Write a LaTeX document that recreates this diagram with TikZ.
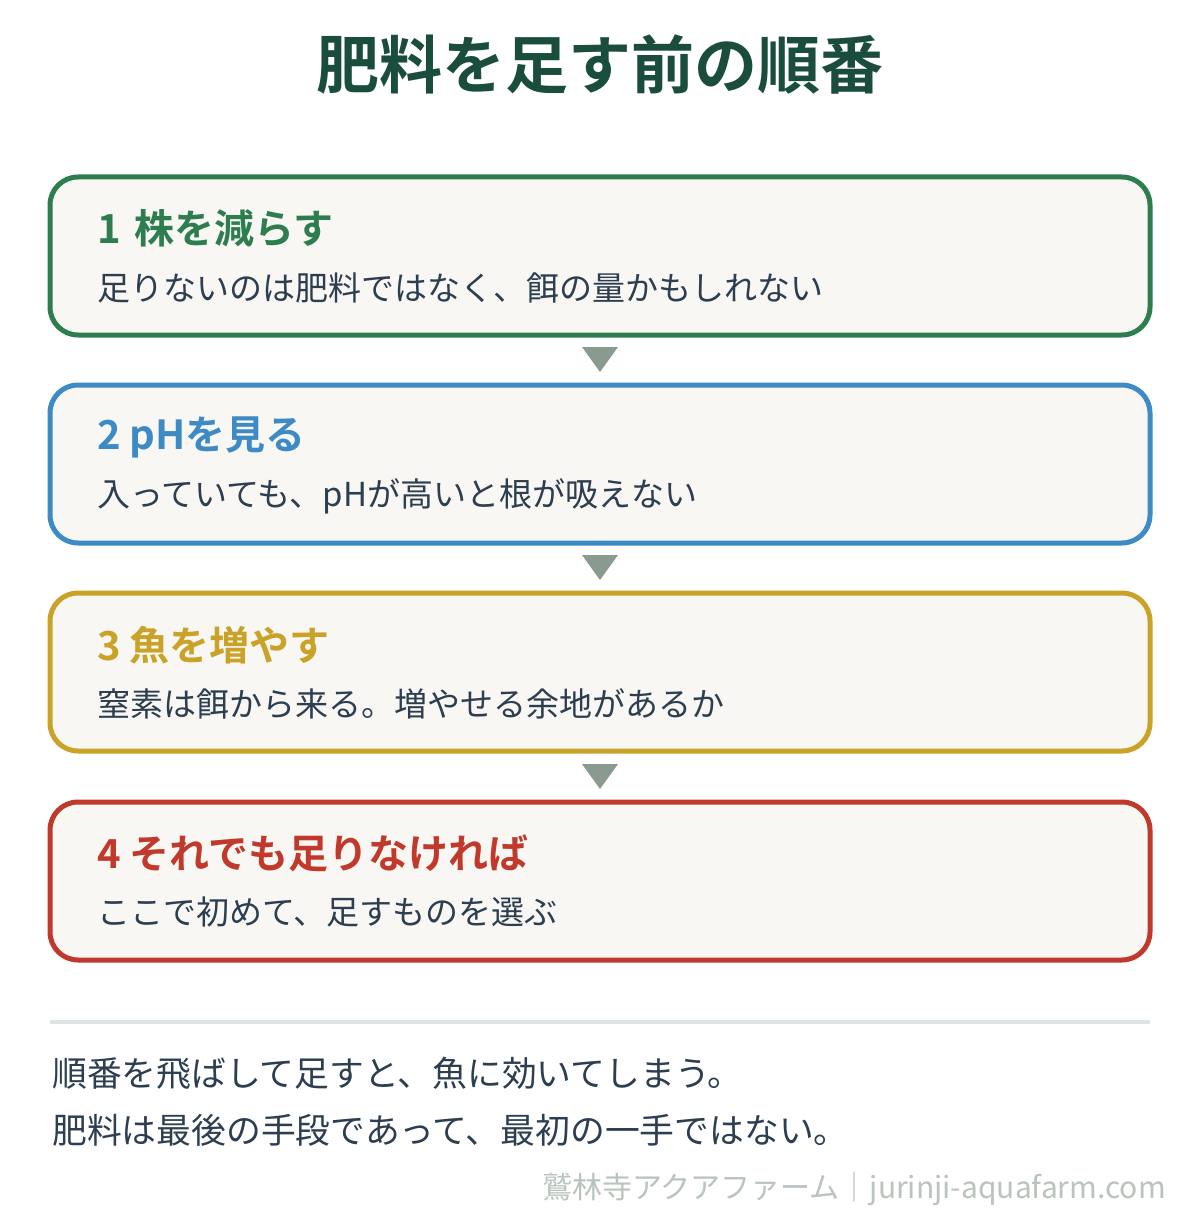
\documentclass[tikz,border=0pt]{standalone}
\usepackage{fontspec}
\setmainfont{Noto Sans CJK JP}[BoldFont={Noto Sans CJK JP Bold}]
\definecolor{titlecol}{HTML}{1B4D3E}
\definecolor{cgreen}{HTML}{2E7D4F}
\definecolor{cblue}{HTML}{3D8AC4}
\definecolor{cyellow}{HTML}{C9A227}
\definecolor{cred}{HTML}{C0392B}
\definecolor{boxfill}{HTML}{F8F7F3}
\definecolor{bodytext}{HTML}{2C3E50}
\definecolor{arrowcol}{HTML}{8A9A8E}
\definecolor{rulecol}{HTML}{DFE5E3}
\definecolor{markcol}{HTML}{B8C4BC}
\begin{document}
\begin{tikzpicture}[x=1pt,y=-1pt,
  stepbox/.style={draw=#1, line width=5pt, fill=boxfill, rounded corners=28pt},
  steptitle/.style={anchor=west, inner sep=0pt, text=#1, font=\fontsize{40}{46}\selectfont\bfseries},
  stepbody/.style={anchor=west, inner sep=0pt, text=bodytext, font=\fontsize{33}{39}\selectfont},
  tri/.style={fill=arrowcol, draw=none},
  foot/.style={anchor=west, inner sep=0pt, text=bodytext, font=\fontsize{34.8}{40}\selectfont}]
\useasboundingbox (0,0) rectangle (1200,1225);
\fill[white] (0,0) rectangle (1200,1225);
\node[inner sep=0pt, text=titlecol, font=\fontsize{63}{70}\selectfont\bfseries] (title) at (600,65) {肥料を足す前の順番};
% boxes
\draw[stepbox=cgreen] (50,177) rectangle (1150,335);
\node[steptitle=cgreen] (t1) at (97,228) {1\,\,株を減らす};
\node[stepbody] (b1) at (97,288) {足りないのは肥料ではなく、餌の量かもしれない};
\fill[tri] (582,347) -- (618,347) -- (600,372) -- cycle;
\draw[stepbox=cblue] (50,385) rectangle (1150,543);
\node[steptitle=cblue] (t2) at (97,437) {2 pHを見る};
\node[stepbody] (b2) at (97,496) {入っていても、pHが高いと根が吸えない};
\fill[tri] (582,555) -- (618,555) -- (600,580) -- cycle;
\draw[stepbox=cyellow] (50,593) rectangle (1150,751);
\node[steptitle=cyellow] (t3) at (97,645) {3 魚を増やす};
\node[stepbody] (b3) at (97,704) {窒素は餌から来る。増やせる余地があるか};
\fill[tri] (582,764) -- (618,764) -- (600,789) -- cycle;
\draw[stepbox=cred] (50,802) rectangle (1150,960);
\node[steptitle=cred] (t4) at (97,853) {4 それでも足りなければ};
\node[stepbody] (b4) at (97,912) {ここで初めて、足すものを選ぶ};
% rule
\draw[rulecol, line width=4pt] (50,1022) -- (1150,1022);
\node[foot] (f1) at (52,1073) {順番を飛ばして足すと、魚に効いてしまう。};
\node[foot] (f2) at (52,1130) {肥料は最後の手段であって、最初の一手ではない。};
\node[anchor=east, inner sep=0pt, text=markcol, font=\fontsize{30}{35}\selectfont] (mark) at (1166,1189) {鷲林寺アクアファーム｜jurinji-aquafarm.com};
\end{tikzpicture}
\end{document}
